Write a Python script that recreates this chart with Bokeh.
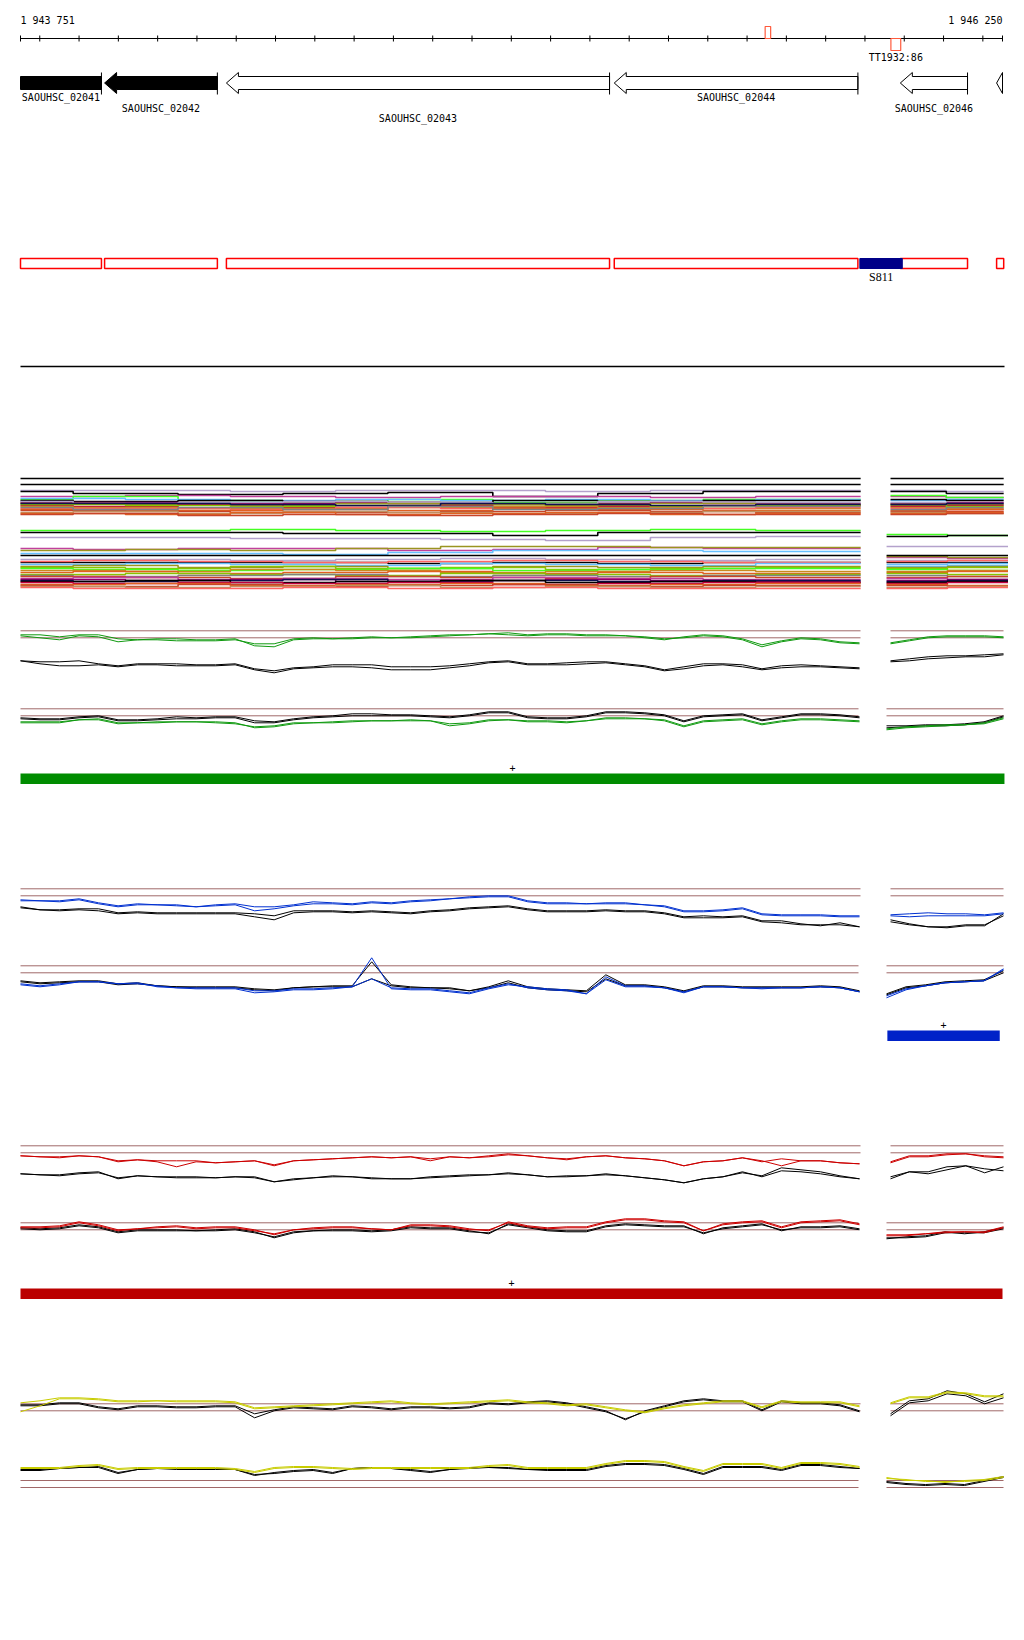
import numpy as np
from bokeh.plotting import figure
from bokeh.models import Range1d
from bokeh.core.properties import value
from bokeh.embed import file_html
from bokeh.resources import INLINE

# ---------------- data ----------------
VIEW_START = 1943751
VIEW_END = 1946250
ruler_labels = ["1 943 751", "1 946 250"]
tick_positions = list(range(1943800, 1946250, 100))

gene_names = ["SAOUHSC_02041", "SAOUHSC_02042", "SAOUHSC_02043", "SAOUHSC_02044", "SAOUHSC_02046", ""]
gene_start = [1943600, 1943965, 1944275, 1945262, 1945990, 1946235]
gene_end = [1943957, 1944252, 1945250, 1945882, 1946161, 1946600]
gene_filled = [True, True, False, False, False, False]
gene_label_row = [0, 1, 2, 0, 1, 0]

srna_name = "S811"
srna_start = 1945887
srna_end = 1945995

tss_start = [1945646, 1945966]
tss_end = [1945660, 1945991]
tss_above = [True, False]
tss_label = "TT1932:86"

bar_start = [1943751, 1945957, 1943751]
bar_end = [1946255, 1946243, 1946250]
bar_colors = ["#008c00", "#0022c8", "#bb0000"]

# signal tracks: 44 probes on the left block + 7 on the right block (px below upper reference line)
g1_green_a = [5,7,9,5,6,11,9,9,10,10,10,9,13,13,8,7,8,7,6,7,6,5,4,4,3,2, 4,3,3,4,4,5,7,9,6,4,5,8,14,10,7,8,11,12, 12,9,6,5,5,5,6]
g1_green_b = [4,4,6,4,4,8,9,8,8,9,9,8,15,16,9,8,8,8,7,7,7,6,5,4,3,4, 5,4,4,5,5,5,6,8,7,5,6,9,16,11,8,9,12,13, 13,10,7,6,6,6,7]
g1_black_a = [30,31,31,30,33,35,33,33,33,34,34,33,38,40,37,36,34,34,34,36,36,36,35,33,31,30, 33,33,32,31,31,33,35,39,36,33,33,34,38,35,34,35,36,37, 30,28,26,25,25,24,23]
g1_black_b = [30,33,35,35,34,36,34,34,35,35,35,34,39,42,38,37,36,36,37,39,39,39,37,35,32,31, 34,34,34,33,32,34,36,40,38,35,34,36,39,37,36,36,37,38, 31,30,28,27,26,26,24]

g2_black_a = [9,10,10,8,7,11,11,10,8,9,8,8,12,13,10,8,7,5,5,6,6,7,8,6,3,3, 8,9,9,7,3,3,4,6,12,7,6,5,11,8,5,5,6,8, 17,17,16,16,15,13,7]
g2_black_b = [10,11,11,9,8,12,12,11,10,10,9,9,14,14,11,9,8,7,7,7,7,8,9,7,4,4, 9,10,10,8,4,4,5,7,13,8,7,6,12,9,6,6,7,9, 19,18,17,17,16,14,8]
g2_green_a = [14,14,14,11,11,15,14,14,13,13,14,15,18,17,14,14,14,13,12,12,12,12,15,14,11,11, 13,13,14,12,9,9,10,11,17,12,11,10,15,12,10,10,11,12, 20,18,17,16,16,14,9]
g2_green_b = [13,13,13,11,10,14,14,13,13,13,13,14,19,18,15,14,13,12,12,12,11,12,17,15,12,11, 12,12,13,12,10,10,10,12,18,13,12,11,16,13,11,11,12,13, 21,19,18,17,16,15,10]

b1_blue_a = [11,12,12,10,14,17,15,16,16,18,16,15,18,18,16,13,14,15,13,14,12,11,10,8,7,7, 12,14,14,15,14,14,16,17,22,22,21,19,25,26,26,26,27,27, 26,25,24,25,25,26,24]
b1_blue_b = [12,12,13,11,15,18,16,16,17,18,17,16,22,20,17,15,15,16,14,15,13,12,10,9,8,8, 13,15,15,15,15,15,16,18,23,23,22,20,26,27,27,27,28,28, 27,28,27,27,27,27,25]
b1_black_a = [18,21,21,20,20,24,23,24,24,24,24,24,25,27,22,22,22,23,22,23,24,22,21,19,18,17, 20,22,22,22,21,22,22,24,28,27,28,27,32,32,35,37,34,38, 31,35,38,39,37,37,25]
b1_black_b = [19,21,22,21,22,25,24,25,25,25,25,25,28,31,24,23,23,24,23,24,25,23,22,20,19,18, 21,23,23,23,22,23,23,25,29,29,29,28,33,34,36,36,36,38, 33,36,38,38,36,36,27]

b2_black_a = [15,17,16,15,15,18,17,20,21,21,21,21,23,24,22,21,20,20,-4,19,21,22,22,25,21,15, 21,23,24,25,9,19,19,21,25,20,20,21,21,21,21,20,21,25, 28,21,19,16,15,14,5]
b2_black_b = [16,18,17,16,16,19,18,20,21,22,22,22,24,25,22,21,21,21,13,20,22,22,23,25,22,17, 22,24,25,26,13,20,20,22,26,21,21,22,22,22,22,21,22,26, 29,22,20,17,16,15,7]
b2_blue_a = [19,21,19,16,16,18,17,21,22,23,23,23,27,26,24,24,23,21,-8,23,24,24,26,28,23,19, 21,23,24,28,11,20,20,22,27,21,21,22,23,22,22,21,22,26, 32,24,20,17,16,15,3]
b2_blue_b = [18,20,18,16,16,18,18,20,22,22,22,22,25,25,23,23,22,21,13,22,23,23,25,27,22,18, 22,24,25,28,14,21,21,22,26,21,21,22,22,22,22,21,22,26, 30,23,20,17,16,15,4]

r1_red_a = [10,11,11,10,11,16,14,15,15,15,17,16,15,19,15,14,13,12,11,12,11,15,11,12,11,9, 10,12,14,11,10,12,13,15,20,16,15,12,16,13,15,15,17,18, 17,11,11,9,8,11,12]
r1_red_b = [10,11,12,10,11,15,14,16,21,16,17,16,15,20,15,14,13,12,11,12,11,13,11,12,10,8, 10,12,13,11,10,12,13,15,20,16,15,12,15,20,15,15,17,18, 16,10,10,8,8,10,11]
r1_black_a = [28,29,29,27,26,33,30,31,31,31,32,31,31,36,34,32,30,31,33,33,33,31,30,29,29,27, 29,31,30,30,28,30,32,34,37,33,31,26,31,25,26,28,31,33, 33,26,28,24,20,27,21]
r1_black_b = [28,29,30,28,27,32,30,31,32,32,32,31,32,36,33,32,31,31,32,33,33,32,31,30,29,28, 29,31,31,30,29,30,32,34,37,33,31,27,30,22,24,26,30,33, 31,26,26,21,20,23,25]

r2_red_a = [4,4,3,-1,2,7,6,4,3,5,4,4,7,12,7,5,4,4,6,7,2,2,3,6,8,-1, 3,5,4,4,-1,-4,-4,-2,-1,8,1,-1,-2,4,-1,-2,-3,1, 13,13,11,9,9,9,4]
r2_red_b = [5,5,4,0,3,8,6,5,4,6,5,5,8,11,7,6,5,5,6,7,3,3,4,7,7,0, 4,6,5,5,0,-3,-3,-1,0,8,2,0,-1,5,0,-1,-2,2, 12,12,11,10,9,10,5]
r2_black_a = [5,6,5,2,4,9,7,7,7,8,7,6,9,15,10,8,7,7,8,7,4,5,5,8,11,1, 4,7,8,8,3,1,2,3,3,11,5,3,1,8,4,4,3,6, 16,14,13,9,11,9,5]
r2_black_b = [6,7,6,3,5,10,8,8,8,8,8,7,10,14,9,8,8,8,9,8,5,6,6,9,10,2, 5,8,9,9,4,2,3,4,4,10,6,4,2,7,5,5,4,7, 15,15,14,10,10,10,6]

y1_yel_a = [-1,-3,-6,-6,-5,-3,-3,-3,-3,-3,-3,-2,4,3,2,1,0,-1,-2,-3,-1,0,-1,-2,-3,-4, -2,-1,1,0,3,6,8,4,1,-1,-3,-3,3,-3,-2,-2,-2,2, -1,-7,-7,-12,-11,-8,-8]
y1_yel_b = [8,2,-5,-5,-4,-2,-2,-3,-2,-2,-2,-1,5,4,3,2,1,0,-1,-2,0,1,0,-1,-2,-3, -1,0,2,1,4,7,9,5,2,0,-2,-2,4,-2,-1,-1,-1,3, 0,-6,-6,-11,-10,-7,-7]
y1_black_a = [1,1,-1,-1,3,5,2,2,3,3,2,2,10,6,3,4,5,2,3,5,3,3,4,3,-1,0, -2,-3,-1,3,7,16,7,2,-3,-5,-3,-3,6,-3,-1,-1,1,7, 10,-3,-5,-13,-10,-2,-10]
y1_black_b = [2,2,0,0,4,6,3,3,4,4,3,3,14,7,4,5,6,3,4,6,4,4,5,4,0,1, -1,-2,0,4,8,15,8,3,-2,-4,-2,-2,7,-2,0,0,2,8, 12,-1,-3,-10,-8,0,-6]

y2_yel_a = [-13,-13,-13,-15,-16,-12,-13,-13,-13,-13,-13,-12,-9,-13,-14,-14,-13,-12,-13,-13,-13,-13,-13,-13,-15,-16, -13,-13,-13,-13,-17,-20,-20,-19,-14,-10,-17,-17,-17,-13,-18,-18,-17,-14, -3,0,0,2,0,-1,-4]
y2_yel_b = [-12,-12,-12,-14,-15,-11,-12,-12,-12,-12,-12,-11,-8,-12,-13,-13,-12,-11,-12,-12,-12,-12,-12,-12,-14,-15, -12,-12,-12,-12,-16,-19,-19,-18,-13,-9,-16,-16,-16,-12,-17,-17,-16,-13, -2,-1,1,1,1,0,-3]
y2_black_a = [-10,-10,-12,-13,-13,-7,-11,-12,-11,-11,-11,-11,-6,-7,-9,-10,-7,-12,-13,-12,-10,-8,-11,-13,-13,-12, -11,-10,-10,-10,-14,-16,-16,-15,-11,-6,-13,-13,-13,-10,-15,-15,-13,-12, 1,3,4,3,4,0,-4]
y2_black_b = [-11,-11,-12,-13,-14,-8,-11,-12,-12,-12,-12,-11,-5,-8,-10,-11,-8,-12,-13,-12,-11,-9,-11,-12,-13,-13, -11,-11,-11,-11,-15,-17,-17,-16,-12,-7,-14,-14,-14,-11,-16,-16,-14,-12, 2,4,5,4,5,1,-3]

# multi-sample band (step levels, 8 left segments + 2 right segments); two staggered break sets
band_breaks_left_a = [1943751, 1944018, 1944285, 1944553, 1944820, 1945087, 1945354, 1945622, 1945889]
band_breaks_left_b = [1943751, 1943885, 1944152, 1944419, 1944686, 1944953, 1945220, 1945488, 1945889]
band_breaks_right_up = [1945965, 1946107, 1946253]
band_breaks_right_lo = [1945955, 1946110, 1946265]

BK, LAV, MAG, LGR, LBL = "#000000", "#b4a2cc", "#c0409c", "#44ff22", "#66c0ff"
OLV, YGR, PUR, ORG, BRK = "#9a9420", "#88c400", "#900068", "#e06020", "#c84428"
SAL, NAV, GRY, OCH, CRM, TAN = "#ff6464", "#101050", "#808080", "#c88a20", "#c00040", "#c09060"

band_up_colors = [BK, BK, LAV, BK, MAG, LGR, LBL, BK, PUR, LAV, OLV, CRM, YGR, OCH, SAL, ORG, BRK, TAN, ORG, BRK, NAV, GRY]
band_up_rows = [
    [478,478,478,478,478,478,478,478, 478,478],
    [484,484,484,484,484,484,484,484, 484,484],
    [490,490,491,490,490,491,490,490, 490,491],
    [491,493,494,493,492,496,493,491, 491,493],
    [496,495,496,497,496,496,497,496, 496,497],
    [499,496,500,501,499,502,500,499, 495,497],
    [498,499,500,499,500,499,500,499, 500,499],
    [500,501,500,501,502,500,501,500, 499,500],
    [502,502,503,502,504,503,502,503, 503,502],
    [501,503,502,501,502,503,501,502, 502,503],
    [503,504,505,503,504,505,503,504, 505,504],
    [505,506,504,507,505,507,506,505, 506,505],
    [504,505,506,505,506,504,506,505, 504,506],
    [506,507,508,508,507,506,507,508, 507,508],
    [508,508,509,507,508,509,508,507, 508,509],
    [509,510,510,509,510,508,509,510, 510,509],
    [510,511,512,512,511,510,511,512, 511,511],
    [512,511,513,511,512,513,512,511, 512,513],
    [513,514,512,514,513,512,514,513, 513,512],
    [514,513,515,514,515,514,513,514, 514,513],
    [503,503,504,505,503,504,505,504, 504,503],
    [507,509,507,509,506,509,508,506, 509,507],
]
band_lo_colors = [LGR, BK, LAV, MAG, OLV, LBL, BK, BK, LAV, SAL, LBL, OLV, YGR, LGR, OCH, ORG, YGR, GRY, BRK, MAG, PUR, NAV, BK, CRM, ORG, BRK, TAN, SAL]
band_lo_rows = [
    [530,530,529,530,531,530,529,530, 534,535],
    [532,532,532,533,533,535,532,532, 536,535],
    [537,537,538,538,539,540,537,536, 546,546],
    [548,549,548,548,550,549,547,548, 557,558],
    [550,549,550,548,546,546,547,547, 556,557],
    [553,553,553,554,552,550,550,551, 566,565],
    [555,555,555,555,555,555,555,555, 555,555],
    [562,562,562,562,563,562,563,562, 562,562],
    [559,559,560,559,558,559,560,559, 560,560],
    [561,560,561,562,561,560,561,562, 561,560],
    [564,563,564,565,563,564,565,563, 564,563],
    [566,565,567,566,568,566,567,566, 567,566],
    [567,568,566,568,567,569,568,567, 568,567],
    [568,569,570,569,568,570,569,568, 569,570],
    [570,571,569,570,572,571,570,571, 571,570],
    [572,571,573,572,571,573,572,573, 572,571],
    [574,573,574,575,573,574,575,574, 573,574],
    [575,576,575,574,576,575,576,575, 575,576],
    [576,577,578,576,577,578,576,577, 577,576],
    [578,577,579,578,579,577,578,579, 578,579],
    [579,580,579,581,580,579,580,581, 580,579],
    [580,581,580,579,581,580,581,580, 581,580],
    [581,580,582,581,580,582,581,582, 582,581],
    [582,583,582,583,582,584,583,582, 583,582],
    [584,583,585,584,583,585,584,583, 584,585],
    [585,586,584,586,585,584,586,585, 585,586],
    [586,587,586,585,587,586,587,586, 587,586],
    [587,588,588,587,588,587,588,588, 588,587],
]

# ---------------- layout helpers ----------------
BPP = (VIEW_END - VIEW_START) / 982.0


def gx(px):
    return VIEW_START + (px - 20) * BPP


MONO = value("DejaVu Sans Mono")
BROWN = "#a06868"

p = figure(width=1008, height=1624, x_range=Range1d(gx(0), gx(1008)), y_range=Range1d(1624, 0),
           output_backend="svg", toolbar_location=None, min_border=0,
           x_axis_type=None, y_axis_type=None)
p.xgrid.visible = False
p.ygrid.visible = False
p.outline_line_color = None
p.background_fill_color = "white"
p.border_fill_color = "white"

# ruler
p.line([VIEW_START, VIEW_END], [38, 38], line_color="black", line_width=1)
ticks = [VIEW_START] + tick_positions + [VIEW_END]
p.segment(x0=ticks, x1=ticks, y0=[35] * len(ticks), y1=[41] * len(ticks), line_color="black", line_width=1)
p.text(x=[VIEW_START], y=[20], text=[ruler_labels[0]], text_font=MONO, text_font_size="10px",
       text_baseline="middle", text_align="left", text_color="black")
p.text(x=[VIEW_END], y=[20], text=[ruler_labels[1]], text_font=MONO, text_font_size="10px",
       text_baseline="middle", text_align="right", text_color="black")

# TSS markers
TSS_COL = "#ff5a3c"
for s, e, ab in zip(tss_start, tss_end, tss_above):
    top, bot = (26, 38) if ab else (38, 50)
    p.quad(left=[s], right=[e], top=[top], bottom=[bot], fill_color=None, line_color=TSS_COL, line_width=1.2)
p.text(x=[(tss_start[1] + tss_end[1]) / 2], y=[57], text=[tss_label], text_font=MONO, text_font_size="10px",
       text_baseline="middle", text_align="center", text_color="black")

# genes
HL = 12 * BPP
YC, HT, HB, BT, BB = 82.5, 72, 93, 76, 89
for name, s, e, filled, row in zip(gene_names, gene_start, gene_end, gene_filled, gene_label_row):
    lo = max(s, VIEW_START)
    hi = min(e, VIEW_END)
    if s >= VIEW_START:
        if s + HL <= hi:
            xs = [s, s + HL, s + HL, hi, hi, s + HL, s + HL]
            ys = [YC, HT, BT, BT, BB, BB, HB]
        else:
            xs = [s, hi, hi]
            ys = [YC, HT, HB]
    else:
        xs = [lo, hi, hi, lo]
        ys = [BT, BT, BB, BB]
    p.patch(xs, ys, fill_color="black" if filled else "white", line_color="black", line_width=1)
    if e <= VIEW_END:
        p.line([hi, hi], [HT, HB + 1], line_color="black", line_width=1)
    if name:
        p.text(x=[(lo + hi) / 2], y=[97 + row * 10.5], text=[name], text_font=MONO, text_font_size="10px",
               text_baseline="middle", text_align="center", text_color="black")

# annotation boxes
box_l = [max(s, VIEW_START) for s in gene_start]
box_r = [min(e, VIEW_END + 1.2 * BPP) for e in gene_end]
p.quad(left=box_l, right=box_r, top=[258] * len(box_l), bottom=[268] * len(box_l),
       fill_color="white", line_color="#ff0000", line_width=1.5)
p.quad(left=[srna_start], right=[srna_end], top=[258], bottom=[268], fill_color="#000088",
       line_color="#000088", line_width=1)
p.text(x=[(srna_start + srna_end) / 2], y=[276], text=[srna_name], text_font=value("Liberation Sans Narrow"),
       text_font_size="12px", text_baseline="middle", text_align="center", text_color="black")

# separator
p.line([VIEW_START, gx(1004)], [366, 366], line_color="black", line_width=1.5)


# band
def step_xy(breaks, vals):
    xs, ys = [], []
    for i, v in enumerate(vals):
        xs += [breaks[i], breaks[i + 1]]
        ys += [v, v]
    return xs, ys


for colors, rows, rbreaks in ((band_up_colors, band_up_rows, band_breaks_right_up),
                               (band_lo_colors, band_lo_rows, band_breaks_right_lo)):
    mxs, mys, mcs = [], [], []
    for i, (c, r) in enumerate(zip(colors, rows)):
        lbreaks = band_breaks_left_a if i % 2 == 0 else band_breaks_left_b
        for br, vals in ((lbreaks, r[:8]), (rbreaks, r[8:])):
            xs, ys = step_xy(br, vals)
            mxs.append(xs)
            mys.append(ys)
            mcs.append(c)
    p.multi_line(xs=mxs, ys=mys, line_color=mcs, line_width=1.6)

# signal tracks
left_grid = np.linspace(gx(20), gx(859), 44)
right_up = np.linspace(gx(890), gx(1003), 7)
right_lo = np.linspace(gx(886), gx(1003), 7)
GREEN, BLUE, RED, YEL = "#109a10", "#0030d0", "#cc0000", "#c8cc00"

tracks = [
    (630.3, True, GREEN, [g1_black_a, g1_black_b], [g1_green_a, g1_green_b]),
    (708.3, False, GREEN, [g2_black_a, g2_black_b], [g2_green_a, g2_green_b]),
    (888.3, True, BLUE, [b1_black_a, b1_black_b], [b1_blue_a, b1_blue_b]),
    (965.3, False, BLUE, [b2_black_a, b2_black_b], [b2_blue_a, b2_blue_b]),
    (1145.3, True, RED, [r1_black_a, r1_black_b], [r1_red_a, r1_red_b]),
    (1222.3, False, RED, [r2_black_a, r2_black_b], [r2_red_a, r2_red_b]),
    (1403.3, True, YEL, [y1_black_a, y1_black_b], [y1_yel_a, y1_yel_b]),
    (1480.0, False, YEL, [y2_black_a, y2_black_b], [y2_yel_a, y2_yel_b]),
]
for top, upper, col, blacks, colored in tracks:
    rg = right_up if upper else right_lo
    lend = gx(860) if upper else gx(858)
    for yy in (top, top + 7):
        p.line([VIEW_START, lend], [yy, yy], line_color=BROWN, line_width=1)
        p.line([rg[0], rg[-1]], [yy, yy], line_color=BROWN, line_width=1)
    for series_list, c in ((blacks, "black"), (colored, col)):
        for s in series_list:
            v = top + np.array(s, dtype=float)
            p.line(left_grid, v[:44], line_color=c, line_width=1)
            p.line(rg, v[44:], line_color=c, line_width=1)

# strand bars with "+"
bar_tops = [773, 1030, 1288]
for s, e, c, t in zip(bar_start, bar_end, bar_colors, bar_tops):
    p.quad(left=[s], right=[e], top=[t], bottom=[t + 10.5], fill_color=c, line_color=None)
    p.text(x=[(s + e) / 2], y=[t - 6], text=["+"], text_font=MONO, text_font_size="10px",
           text_baseline="middle", text_align="center", text_color="black")

open("out.html", "w").write(file_html(p, INLINE))
